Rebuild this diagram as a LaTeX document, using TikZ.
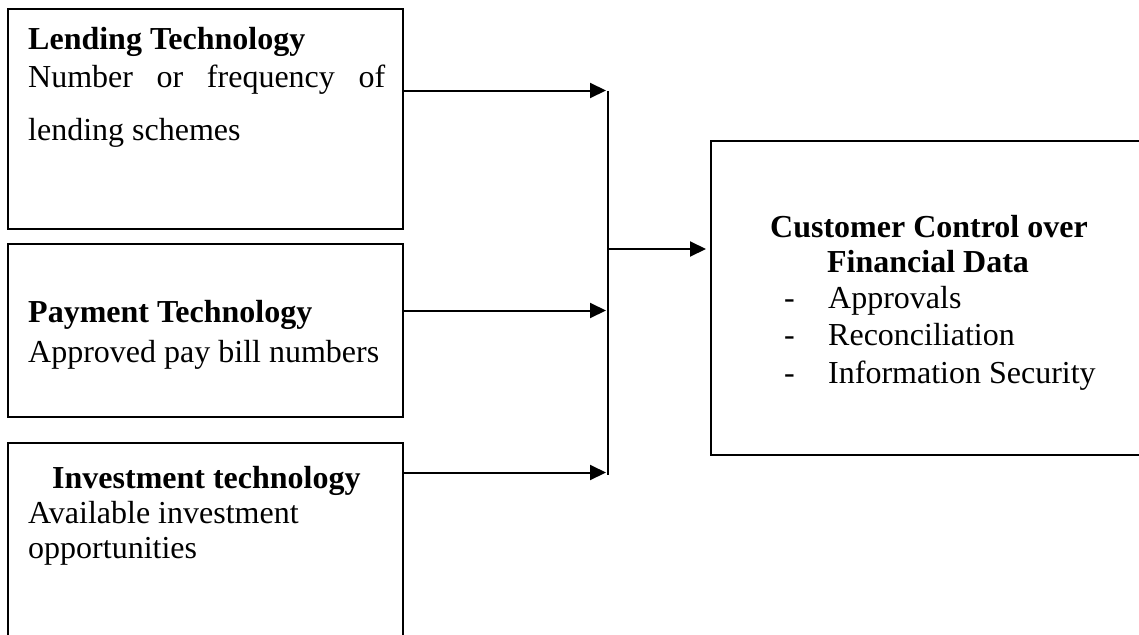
\documentclass[tikz,border=0pt]{standalone}
\usepackage{fontspec}
\setmainfont{Liberation Serif}
\usetikzlibrary{arrows.meta}
\begin{document}
\begin{tikzpicture}[x=1pt,y=-1pt,
  box/.style={draw=black,line width=2pt,inner sep=0pt},
  txt/.style={anchor=base west,inner sep=0pt,font=\fontsize{32}{38}\selectfont},
  btxt/.style={txt,font=\fontsize{32}{38}\selectfont\bfseries},
  ctxt/.style={anchor=base,inner sep=0pt,font=\fontsize{32}{38}\selectfont\bfseries},
  arr/.style={line width=2pt,-{Triangle[length=16pt,width=15pt]}}]
\useasboundingbox (0,0) rectangle (1139,634);
\clip (0,0) rectangle (1139,634);
\fill[white] (0,0) rectangle (1139,634);
% boxes
\node[box,minimum width=395pt,minimum height=220pt] (b1) at (205.5,119) {};
\node[box,minimum width=395pt,minimum height=173pt] (b2) at (205.5,330.5) {};
\node[box,minimum width=395pt,minimum height=207pt] (b3) at (205.5,546.5) {};
\node[box,minimum width=439pt,minimum height=314pt] (out) at (930.5,298) {};
% texts
\node[btxt] (l1) at (28,49) {Lending Technology};
\node[txt] (l2) at (28,87) {\makebox[357pt][s]{Number or frequency of}};
\node[txt] (l3) at (28,140) {lending schemes};
\node[btxt] (p1) at (28,322) {Payment Technology};
\node[txt] (p2) at (28,362) {Approved pay bill numbers};
\node[btxt] (i1) at (52,488) {Investment technology};
\node[txt] (i2) at (28,523) {Available investment};
\node[txt] (i3) at (28,558) {opportunities};
\node[ctxt] (c1) at (929,237) {Customer Control over};
\node[ctxt] (c2) at (928,272) {Financial Data};
\node[txt] (d1) at (784,308) {-};
\node[txt] (d2) at (784,345) {-};
\node[txt] (d3) at (784,383) {-};
\node[txt] (e1) at (828,308) {Approvals};
\node[txt] (e2) at (828,345) {Reconciliation};
\node[txt] (e3) at (828,383) {Information Security};
% connectors
\coordinate (bartop) at (608,91);
\coordinate (barbot) at (608,475);
\coordinate (t1) at (606,90.5);
\coordinate (t2) at (606,310.5);
\coordinate (t3) at (606,472.5);
\coordinate (m) at (607,249);
\draw[line width=2.5pt] (bartop) -- (barbot);
\draw[arr] (t1 -| b1.east) -- (t1);
\draw[arr] (t2 -| b2.east) -- (t2);
\draw[arr] (t3 -| b3.east) -- (t3);
\draw[arr,shorten >=4pt] (m) -- (m -| out.west);
\end{tikzpicture}
\end{document}
